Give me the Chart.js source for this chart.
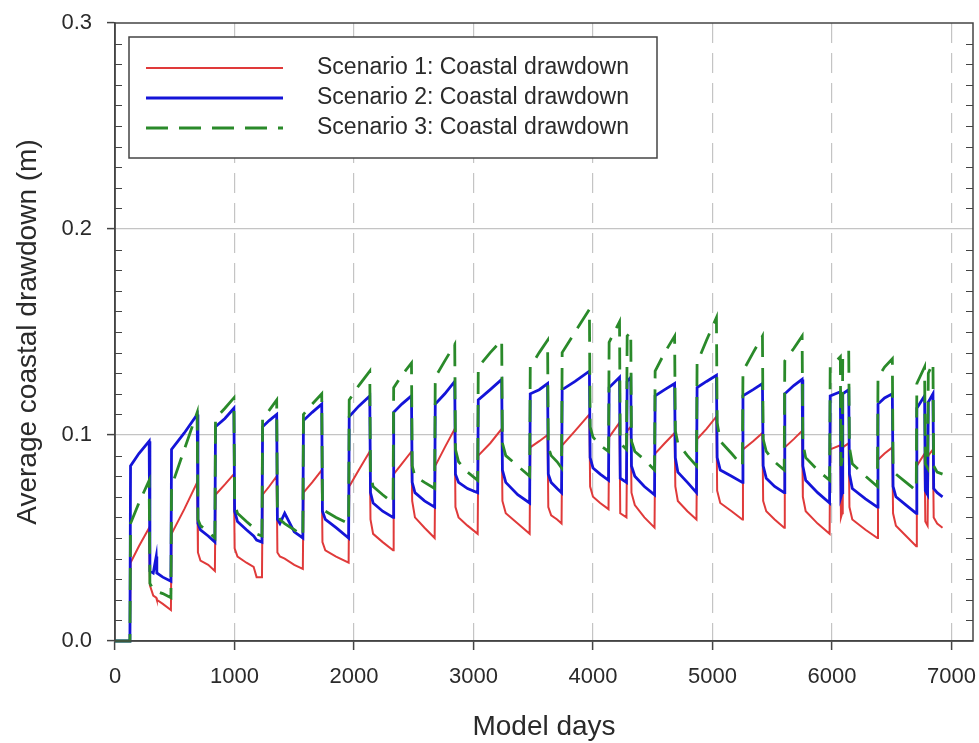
<!DOCTYPE html>
<html>
<head>
<meta charset="utf-8">
<script src="https://cdn.jsdelivr.net/npm/chart.js@4.4.1/dist/chart.umd.min.js"></script>
<style>
  html, body { margin: 0; padding: 0; background: #fff; }
</style>
</head>
<body>
<canvas id="chart" width="979" height="743"></canvas>
<script>
// model day of each sample (one line per pumping cycle)
var days = [
  0, 125, 130, 200, 286, 292, 320, 345, 350, 400, 468,
  473, 580, 688, 694, 715, 780, 836,
  841, 920, 995, 1001, 1025, 1100, 1160, 1185, 1230,
  1235, 1290, 1353, 1359, 1380, 1420, 1500, 1572,
  1577, 1650, 1730, 1736, 1760, 1850, 1955,
  1960, 2040, 2132, 2138, 2160, 2240, 2327,
  2332, 2400, 2481, 2487, 2510, 2590, 2675,
  2680, 2760, 2843, 2849, 2875, 2950, 3035,
  3040, 3140, 3236, 3242, 3270, 3370, 3470,
  3475, 3550, 3620, 3626, 3650, 3700, 3737,
  3742, 3850, 3970, 3976, 4000, 4060, 4130,
  4135, 4222, 4228, 4280, 4286, 4316, 4322, 4350, 4430, 4515,
  4520, 4600, 4683, 4689, 4710, 4790, 4866,
  4871, 4950, 5033, 5039, 5065, 5160, 5250,
  5255, 5340, 5418, 5424, 5450, 5520, 5600,
  5605, 5680, 5750, 5756, 5780, 5880, 5980,
  5985, 6070, 6075, 6085, 6090, 6140, 6146, 6170, 6280, 6380,
  6385, 6440, 6505, 6511, 6535, 6620, 6705,
  6710, 6775, 6781, 6800, 6806, 6845, 6851, 6880, 6925
];

var scenario1 = [
  0, 0, 0.038, 0.046, 0.055, 0.027, 0.022, 0.021, 0.020, 0.018, 0.015,
  0.052, 0.064, 0.077, 0.043, 0.039, 0.037, 0.034,
  0.071, 0.076, 0.081, 0.045, 0.041, 0.038, 0.036, 0.031, 0.031,
  0.071, 0.075, 0.080, 0.043, 0.041, 0.040, 0.037, 0.035,
  0.072, 0.077, 0.083, 0.048, 0.044, 0.041, 0.038,
  0.075, 0.083, 0.092, 0.059, 0.052, 0.048, 0.044,
  0.081, 0.086, 0.092, 0.068, 0.060, 0.055, 0.050,
  0.085, 0.094, 0.103, 0.065, 0.060, 0.056, 0.052,
  0.090, 0.096, 0.103, 0.068, 0.062, 0.057, 0.052,
  0.094, 0.097, 0.100, 0.065, 0.061, 0.059, 0.057,
  0.095, 0.102, 0.110, 0.075, 0.070, 0.067, 0.064,
  0.099, 0.106, 0.062, 0.060, 0.102, 0.104, 0.072, 0.066, 0.060, 0.055,
  0.091, 0.096, 0.101, 0.075, 0.068, 0.063, 0.059,
  0.098, 0.103, 0.109, 0.073, 0.067, 0.063, 0.059,
  0.093, 0.097, 0.101, 0.068, 0.063, 0.059, 0.055,
  0.094, 0.098, 0.102, 0.070, 0.063, 0.057, 0.052,
  0.093, 0.095, 0.060, 0.062, 0.094, 0.096, 0.065, 0.059, 0.054, 0.050,
  0.088, 0.091, 0.094, 0.062, 0.056, 0.051, 0.046,
  0.085, 0.091, 0.058, 0.056, 0.090, 0.093, 0.060, 0.057, 0.055
];

var scenario2 = [
  0, 0, 0.085, 0.091, 0.097, 0.034, 0.033, 0.041, 0.033, 0.031, 0.029,
  0.093, 0.101, 0.110, 0.057, 0.054, 0.051, 0.048,
  0.104, 0.108, 0.113, 0.063, 0.058, 0.054, 0.051, 0.049, 0.048,
  0.104, 0.107, 0.110, 0.059, 0.057, 0.062, 0.053, 0.050,
  0.107, 0.111, 0.115, 0.063, 0.059, 0.055, 0.050,
  0.109, 0.114, 0.119, 0.072, 0.067, 0.063, 0.060,
  0.111, 0.115, 0.119, 0.077, 0.072, 0.068, 0.065,
  0.115, 0.120, 0.126, 0.081, 0.077, 0.074, 0.072,
  0.117, 0.122, 0.127, 0.083, 0.077, 0.071, 0.067,
  0.120, 0.122, 0.125, 0.081, 0.077, 0.074, 0.072,
  0.122, 0.126, 0.131, 0.089, 0.084, 0.081, 0.078,
  0.123, 0.128, 0.079, 0.077, 0.126, 0.128, 0.085, 0.080, 0.075, 0.071,
  0.119, 0.122, 0.125, 0.089, 0.082, 0.077, 0.072,
  0.123, 0.126, 0.129, 0.089, 0.083, 0.080, 0.077,
  0.119, 0.122, 0.125, 0.085, 0.079, 0.075, 0.072,
  0.120, 0.124, 0.127, 0.085, 0.078, 0.072, 0.067,
  0.119, 0.121, 0.070, 0.072, 0.120, 0.122, 0.081, 0.074, 0.069, 0.065,
  0.115, 0.118, 0.120, 0.075, 0.070, 0.066, 0.062,
  0.113, 0.119, 0.073, 0.071, 0.116, 0.120, 0.074, 0.072, 0.070
];

var scenario3 = [
  0, 0, 0.057, 0.067, 0.078, 0.028, 0.025, 0.024, 0.024, 0.023, 0.021,
  0.075, 0.093, 0.111, 0.059, 0.056, 0.053, 0.050,
  0.108, 0.113, 0.118, 0.067, 0.062, 0.058, 0.055, 0.052, 0.051,
  0.108, 0.112, 0.117, 0.062, 0.059, 0.057, 0.054, 0.051,
  0.110, 0.115, 0.120, 0.067, 0.063, 0.060, 0.057,
  0.117, 0.124, 0.131, 0.081, 0.075, 0.071, 0.067,
  0.123, 0.129, 0.135, 0.085, 0.080, 0.077, 0.074,
  0.128, 0.136, 0.144, 0.093, 0.087, 0.082, 0.078,
  0.133, 0.140, 0.146, 0.096, 0.090, 0.085, 0.080,
  0.133, 0.140, 0.146, 0.094, 0.090, 0.087, 0.084,
  0.140, 0.150, 0.161, 0.104, 0.099, 0.095, 0.092,
  0.145, 0.155, 0.096, 0.093, 0.148, 0.150, 0.097, 0.092, 0.088, 0.083,
  0.131, 0.140, 0.148, 0.102, 0.096, 0.090, 0.085,
  0.135, 0.146, 0.157, 0.106, 0.097, 0.091, 0.085,
  0.131, 0.140, 0.148, 0.098, 0.092, 0.087, 0.083,
  0.136, 0.142, 0.148, 0.096, 0.089, 0.083, 0.078,
  0.133, 0.138, 0.085, 0.088, 0.138, 0.141, 0.094, 0.086, 0.080, 0.075,
  0.128, 0.133, 0.137, 0.085, 0.081, 0.077, 0.073,
  0.125, 0.133, 0.086, 0.084, 0.130, 0.135, 0.085, 0.082, 0.081
];

var seriesNames = [
  "Scenario 1: Coastal drawdown",
  "Scenario 2: Coastal drawdown",
  "Scenario 3: Coastal drawdown"
];
var xTicks = [0, 1000, 2000, 3000, 4000, 5000, 6000, 7000];
var yTicks = [0, 0.1, 0.2, 0.3];

var FONT = "'Liberation Sans', Arial, sans-serif";
var TEXT = "#2a2a2a";

function toPoints(vals) {
  return days.map(function (d, i) { return {x: d, y: vals[i]}; });
}

// frame, inner minor ticks and the boxed legend
var framePlugin = {
  id: "frame",
  afterDatasetsDraw: function (chart) {
    var ctx = chart.ctx, a = chart.chartArea, y = chart.scales.y;
    ctx.save();
    ctx.strokeStyle = "#444";
    ctx.lineWidth = 1.5;
    ctx.strokeRect(a.left, a.top, a.right - a.left, a.bottom - a.top);
    ctx.beginPath();
    for (var i = 1; i < 30; i++) {
      if (i % 10 === 0) continue;
      var py = Math.round(y.getPixelForValue(i / 100)) + 0.5;
      ctx.moveTo(a.left, py); ctx.lineTo(a.left + 7, py);
      ctx.moveTo(a.right, py); ctx.lineTo(a.right - 7, py);
    }
    ctx.lineWidth = 1.2;
    ctx.stroke();

    // legend box
    var bx = a.left + 14, by = a.top + 14;
    ctx.fillStyle = "#fff";
    ctx.fillRect(bx, by, 528, 121);
    ctx.lineWidth = 1.5;
    ctx.strokeStyle = "#444";
    ctx.strokeRect(bx, by, 528, 121);
    ctx.font = "23px " + FONT;
    ctx.textBaseline = "middle";
    ctx.fillStyle = TEXT;
    chart.data.datasets.forEach(function (ds, i) {
      var ly = by + 31 + i * 30;
      ctx.beginPath();
      ctx.strokeStyle = ds.borderColor;
      ctx.lineWidth = ds.borderWidth;
      ctx.setLineDash(ds.borderDash || []);
      ctx.moveTo(bx + 17, ly);
      ctx.lineTo(bx + 154, ly);
      ctx.stroke();
      ctx.setLineDash([]);
      ctx.fillText(ds.label, bx + 188, ly);
    });
    ctx.restore();
  }
};

new Chart("chart", {
  type: "line",
  data: {
    datasets: [{
      label: seriesNames[0],
      data: toPoints(scenario1),
      borderColor: "#e03a3a",
      borderWidth: 2,
      order: 2
    }, {
      label: seriesNames[1],
      data: toPoints(scenario2),
      borderColor: "#1414d8",
      borderWidth: 2.8,
      order: 1
    }, {
      label: seriesNames[2],
      data: toPoints(scenario3),
      borderColor: "#2a8a2a",
      borderWidth: 2.8,
      borderDash: [22, 11],
      order: 0
    }]
  },
  options: {
    responsive: false,
    animation: false,
    elements: { point: { radius: 0 }, line: { tension: 0, fill: false } },
    datasets: { line: { clip: 4 } },
    layout: { padding: { top: 23, right: 6, bottom: 0, left: 0 } },
    plugins: { legend: { display: false }, tooltip: { enabled: false } },
    scales: {
      x: {
        type: "linear",
        min: 0,
        max: 7180,
        afterBuildTicks: function (s) { s.ticks = xTicks.map(function (v) { return {value: v}; }); },
        afterFit: function (s) { s.height = 102; s.paddingLeft = 0; s.paddingRight = 0; },
        ticks: {
          font: { size: 22, family: FONT },
          color: TEXT,
          padding: 14,
          maxRotation: 0,
          callback: function (v) { return String(v); }
        },
        grid: {
          color: function (c) { return c.tick && c.tick.value === 0 ? "rgba(0,0,0,0)" : "#c4c4c4"; },
          lineWidth: 1.2,
          tickColor: "#444",
          tickLength: 9,
          tickWidth: 1.5
        },
        border: { display: true, color: "#444", width: 1.5, dash: [20, 10] },
        title: {
          display: true,
          text: "Model days",
          font: { size: 28, family: FONT, lineHeight: 1.1 },
          color: TEXT,
          padding: { top: 0, bottom: 0 }
        }
      },
      y: {
        min: 0,
        max: 0.3,
        afterBuildTicks: function (s) { s.ticks = yTicks.map(function (v) { return {value: v}; }); },
        afterFit: function (s) { s.width = 115; s.paddingTop = 0; s.paddingBottom = 0; },
        ticks: {
          font: { size: 22, family: FONT },
          color: TEXT,
          padding: 15,
          callback: function (v) { return v.toFixed(1); }
        },
        grid: {
          color: function (c) {
            var v = c.tick ? c.tick.value : 0;
            return (v === 0 || v === 0.3) ? "rgba(0,0,0,0)" : "#c4c4c4";
          },
          lineWidth: 1.2,
          tickColor: "#444",
          tickLength: 8,
          tickWidth: 1.5
        },
        border: { display: true, color: "#444", width: 1.5 },
        title: {
          display: true,
          text: "Average coastal drawdown (m)",
          font: { size: 28, family: FONT },
          color: TEXT,
          padding: { top: 11, bottom: 0 }
        }
      }
    }
  },
  plugins: [framePlugin]
});
</script>
</body>
</html>
